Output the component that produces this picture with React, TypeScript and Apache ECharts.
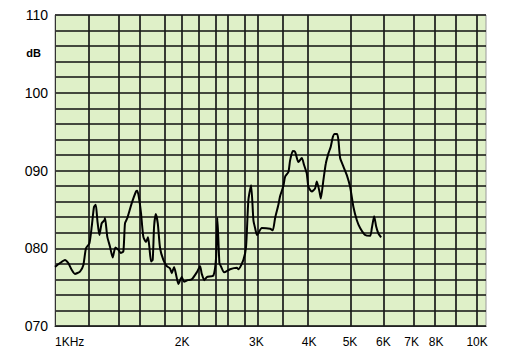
import React, { useEffect, useRef } from "react";
import * as echarts from "echarts";

// Measured response (frequency in Hz, level in dB)
const FREQ_HZ = [
  1000, 1028, 1056, 1075, 1096, 1115, 1146, 1167, 1184, 1206, 1222, 1237, 1249, 1260, 1274, 1290,
  1309, 1314, 1330, 1350, 1370, 1390, 1413, 1431, 1452, 1465, 1484, 1520, 1556, 1567, 1584, 1599,
  1619, 1643, 1661, 1673, 1689, 1704, 1717, 1733, 1752, 1774, 1806, 1840, 1873, 1891, 1915, 1936,
  1960, 1997, 2022, 2063, 2109, 2167, 2207, 2227, 2259, 2289, 2373, 2408, 2425, 2452, 2471, 2516,
  2599, 2696, 2720, 2795, 2836, 2872, 2915, 2952, 2979, 3012, 3090, 3233, 3281, 3323, 3383, 3414,
  3476, 3509, 3573, 3606, 3660, 3706, 3773, 3844, 3892, 3950, 3985, 4059, 4133, 4172, 4232, 4264,
  4325, 4382, 4445, 4503, 4553, 4598, 4661, 4694, 4738, 4824, 4914, 5003, 5094, 5190, 5284, 5430,
  5581, 5633, 5704, 5767, 5839, 5926,
];
const LEVEL_DB = [
  77.6, 78.1, 78.5, 78.1, 77.2, 76.7, 77.0, 77.8, 80.0, 80.6, 82.8, 85.3, 85.6, 83.6, 81.7, 83.2,
  83.6, 83.9, 81.5, 80.2, 78.8, 80.1, 79.8, 79.4, 79.6, 83.2, 83.9, 85.8, 87.3, 87.4, 86.2, 84.5,
  81.5, 80.8, 81.4, 80.2, 78.3, 78.5, 82.8, 84.4, 83.2, 80.0, 78.5, 77.7, 77.4, 76.8, 77.6, 76.6,
  75.4, 76.3, 75.7, 75.9, 76.0, 76.9, 77.7, 76.7, 75.9, 76.3, 76.5, 78.8, 83.9, 78.1, 77.7, 76.9,
  77.3, 77.5, 77.3, 78.5, 80.2, 86.2, 88.1, 83.6, 82.6, 81.7, 82.6, 82.5, 82.3, 83.9, 85.6, 86.7,
  88.0, 89.2, 89.8, 91.3, 92.5, 92.4, 91.1, 91.6, 90.7, 89.6, 87.9, 87.3, 87.7, 88.6, 87.3, 86.4,
  88.8, 90.9, 92.2, 93.1, 94.3, 94.7, 94.7, 93.9, 91.6, 90.5, 89.4, 87.9, 85.3, 83.6, 82.6, 81.7,
  81.6, 82.6, 84.1, 82.8, 81.9, 81.4,
];

// Paper grid
const GRID_FREQ_HZ = [
  1200, 1400, 1600, 1800, 2000, 2200, 2400, 2600, 2800, 3000, 3500, 4000, 5000, 6000, 7000, 8000,
  9000, 10000,
];
const TICK_FREQ_HZ = [1000, 2000, 3000, 4000, 5000, 6000, 7000, 8000, 10000];
const TICK_LABELS = ["1KHz", "2K", "3K", "4K", "5K", "6K", "7K", "8K", "10K"];
const X_MIN_HZ = 1000;
const X_MAX_HZ = 10500;
const Y_MIN_DB = 70;
const Y_MAX_DB = 110;
const Y_GRID_STEP_DB = 2;
const Y_LABEL_STEP_DB = 10;

const FONT = "'Liberation Sans', Arial, sans-serif";

export default function App() {
  const ref = useRef<HTMLDivElement>(null);

  useEffect(() => {
    if (!ref.current) return;
    const chart = echarts.init(ref.current, undefined, { renderer: "svg" });
    const lg = (f: number) => Math.log10(f);
    const data = FREQ_HZ.map((f, i) => [lg(f), LEVEL_DB[i]]);

    chart.setOption({
      animation: false,
      backgroundColor: "#ffffff",
      grid: {
        left: 55,
        top: 15,
        width: 431,
        height: 311,
        show: true,
        backgroundColor: "#dff0c8",
        borderColor: "#9a9a9a",
        borderWidth: 1,
      },
      xAxis: {
        type: "value",
        min: lg(X_MIN_HZ),
        max: lg(X_MAX_HZ),
        splitLine: { show: false },
        axisTick: { show: false },
        axisLine: { show: true, lineStyle: { color: "#222", width: 1 } },
        axisLabel: {
          customValues: TICK_FREQ_HZ.map(lg),
          alignMinLabel: "left",
          formatter: (v: number) => {
            const i = TICK_FREQ_HZ.findIndex((f) => Math.abs(lg(f) - v) < 1e-6);
            return i >= 0 ? TICK_LABELS[i] : "";
          },
          color: "#000",
          fontSize: 12,
          fontFamily: FONT,
          margin: 10,
        },
      },
      yAxis: {
        type: "value",
        min: Y_MIN_DB,
        max: Y_MAX_DB,
        interval: Y_GRID_STEP_DB,
        name: "dB",
        nameLocation: "end",
        nameGap: -38,
        nameTextStyle: {
          color: "#000",
          fontSize: 11,
          fontWeight: "bold",
          fontFamily: FONT,
          align: "right",
          verticalAlign: "middle",
          padding: [0, 14, 0, 0],
        },
        splitLine: { show: true, lineStyle: { color: "#111", width: 1.5 } },
        axisTick: { show: false },
        axisLine: { show: true, lineStyle: { color: "#333", width: 1 } },
        axisLabel: {
          formatter: (v: number) =>
            v % Y_LABEL_STEP_DB === 0 ? String(v).padStart(3, "0") : "",
          color: "#000",
          fontSize: 14,
          fontFamily: FONT,
          margin: 7,
        },
      },
      series: [
        {
          type: "line",
          data: [],
          z: 1,
          silent: true,
          markLine: {
            silent: true,
            symbol: ["none", "none"],
            label: { show: false },
            lineStyle: { color: "#1a1a1a", width: 1.7, type: "solid" },
            data: GRID_FREQ_HZ.map((f) => ({ xAxis: lg(f) })),
          },
        },
        {
          type: "line",
          data,
          z: 5,
          showSymbol: false,
          smooth: 0.2,
          lineStyle: { color: "#000", width: 2 },
        },
      ],
    });

    return () => chart.dispose();
  }, []);

  return (
    <div
      ref={ref}
      style={{ position: "fixed", left: 0, top: 0, width: 508, height: 363 }}
    />
  );
}
